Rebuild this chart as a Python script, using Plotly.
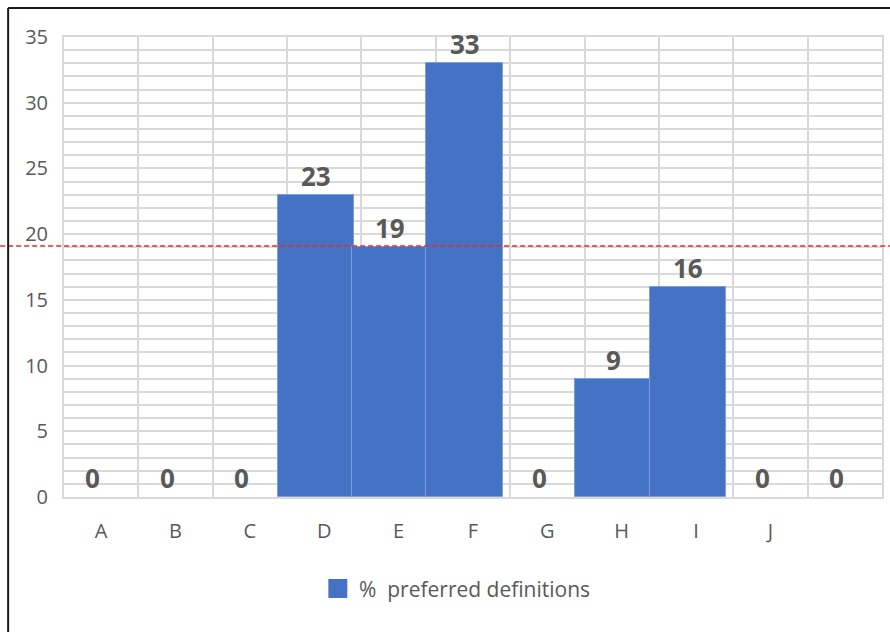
import plotly.graph_objects as go

# ---- data ----
categories = ["A", "B", "C", "D", "E", "F", "G", "H", "I", "J", ""]
preferred_pct = [0, 0, 0, 23, 19, 33, 0, 9, 16, 0, 0]
reference_level = 19.1
series_name = "%  preferred definitions"
y_ticks = [0, 5, 10, 15, 20, 25, 30, 35]

# ---- styling ----
BAR_BLUE = "#4472c4"
TEXT_GREY = "#595959"
GRID_GREY = "#d9d9d9"
FONT = "Open Sans"

W, H = 890, 632
M_L, M_R, M_T, M_B = 64, 6, 37, 135
PLOT_W = W - M_L - M_R
PLOT_H = H - M_T - M_B


def px_x(px):
    """pixel column -> paper x"""
    return (px - M_L) / PLOT_W


def px_y(py):
    """pixel row -> paper y"""
    return (H - M_B - py) / PLOT_H


positions = list(range(len(categories)))

fig = go.Figure()

# invisible carrier so the category axis (labels + cell grid) is drawn
fig.add_trace(go.Scatter(
    x=positions, y=[0] * len(positions),
    xaxis="x", yaxis="y",
    mode="markers", marker=dict(opacity=0),
    showlegend=False, hoverinfo="skip",
))

fig.add_trace(go.Bar(
    x=positions,
    y=preferred_pct,
    xaxis="x2", yaxis="y",
    width=1.03,
    marker=dict(
        color=BAR_BLUE,
        line=dict(color="#7f9ddb", width=[1 if v else 0 for v in preferred_pct]),
    ),
    name=series_name,
    showlegend=False,
    hoverinfo="skip",
))

# value labels above each bar
for pos, val in zip(positions, preferred_pct):
    fig.add_annotation(
        x=pos, y=val, xref="x2", yref="y",
        text=f"<b>{val}</b>", showarrow=False,
        yanchor="bottom", yshift=-1,
        font=dict(family=FONT, size=26, color=TEXT_GREY),
    )

# dashed reference line across the whole chart
fig.add_shape(
    type="line", xref="paper", yref="y",
    x0=px_x(0), x1=px_x(W + 2), y0=reference_level, y1=reference_level,
    line=dict(color="#ff2020", width=1.5, dash="5px,3px"),
    layer="above",
)

# outer chart frame (top and left edges)
fig.add_shape(type="line", xref="paper", yref="paper",
              x0=px_x(8), x1=px_x(W + 5), y0=px_y(8), y1=px_y(8),
              line=dict(color="#1a1a1a", width=2))
fig.add_shape(type="line", xref="paper", yref="paper",
              x0=px_x(8), x1=px_x(8), y0=px_y(8), y1=px_y(H + 5),
              line=dict(color="#1a1a1a", width=2))

# legend: swatch + label
fig.add_shape(type="rect", xref="paper", yref="paper",
              x0=px_x(329), x1=px_x(348), y0=px_y(598), y1=px_y(579),
              fillcolor=BAR_BLUE, line=dict(width=0))
fig.add_annotation(x=px_x(358), y=px_y(589), xref="paper", yref="paper",
                   text=series_name, showarrow=False,
                   xanchor="left", yanchor="middle",
                   font=dict(family=FONT, size=21, color=TEXT_GREY))

fig.update_layout(
    width=W, height=H,
    margin=dict(l=M_L, r=M_R, t=M_T, b=M_B),
    paper_bgcolor="white",
    plot_bgcolor="white",
    bargap=0,
    showlegend=False,
    font=dict(family=FONT, color=TEXT_GREY),
    xaxis=dict(
        range=[-0.5, len(categories) - 0.5],
        tickmode="array", tickvals=positions, ticktext=categories,
        showgrid=False, zeroline=False,
        showline=True, mirror=True, linecolor=GRID_GREY, linewidth=2,
        ticks="", ticklabelstandoff=15,
        tickfont=dict(family=FONT, size=20, color=TEXT_GREY),
        minor=dict(tick0=0.5, dtick=1, showgrid=True,
                   gridcolor=GRID_GREY, gridwidth=2),
        fixedrange=True,
    ),
    xaxis2=dict(
        overlaying="x",
        range=[-0.389, len(categories) - 0.389],
        visible=False,
        fixedrange=True,
    ),
    yaxis=dict(
        range=[0, 35],
        tickmode="array", tickvals=y_ticks,
        showgrid=True, gridcolor=GRID_GREY, gridwidth=2,
        zeroline=False,
        showline=True, mirror=True, linecolor=GRID_GREY, linewidth=2,
        ticks="", ticklabelstandoff=10,
        tickfont=dict(family=FONT, size=20, color=TEXT_GREY),
        minor=dict(dtick=1, showgrid=True, gridcolor=GRID_GREY, gridwidth=2),
        fixedrange=True,
    ),
)

fig.write_html("out.html")
